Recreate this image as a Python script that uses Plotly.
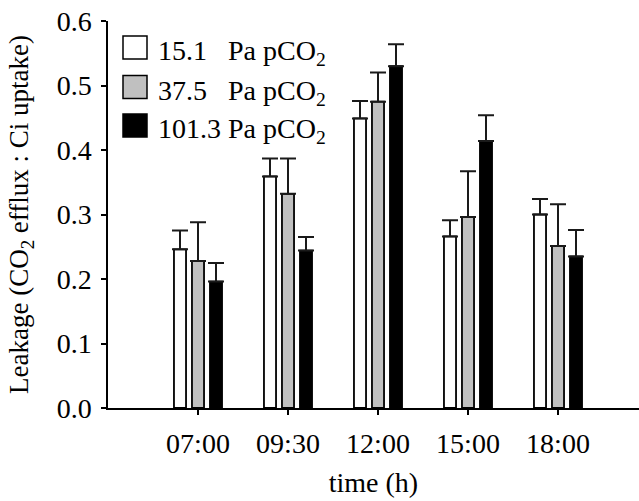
import plotly.graph_objects as go

times = ["07:00", "09:30", "12:00", "15:00", "18:00"]
series_names = ["15.1", "37.5", "101.3"]
leak_15 = [0.246, 0.359, 0.449, 0.266, 0.300]
leak_37 = [0.228, 0.332, 0.475, 0.296, 0.251]
leak_101 = [0.196, 0.244, 0.530, 0.414, 0.235]
err_15 = [0.029, 0.028, 0.027, 0.025, 0.024]
err_37 = [0.060, 0.055, 0.045, 0.071, 0.065]
err_101 = [0.029, 0.021, 0.034, 0.040, 0.041]
fills = ["#ffffff", "#c0c0c0", "#000000"]

W, H = 639, 501
L, R, T, B = 108, 0, 21, 93
FONT = "Liberation Serif"
FS = 28

fig = go.Figure()
for name, vals, errs, col in zip(series_names, [leak_15, leak_37, leak_101],
                                 [err_15, err_37, err_101], fills):
    fig.add_trace(go.Bar(
        x=times, y=vals, name=name,
        marker=dict(color=col, line=dict(color="#000000", width=1.8)),
        error_y=dict(type="data", symmetric=False, array=errs,
                     arrayminus=[0] * len(errs), color="#1a1a1a",
                     thickness=2, width=8),
        showlegend=False,
    ))

# custom legend (swatches + text)
pw, ph = W - L - R, H - T - B
def px_x(p):
    return (p - L) / pw
def px_y(p):
    return (H - B - p) / ph

row_centers = [47.5, 87, 125.5]
labels = ["15.1\u00a0\u00a0\u00a0Pa pCO<sub>2</sub>",
          "37.5\u00a0\u00a0\u00a0Pa pCO<sub>2</sub>",
          "101.3\u00a0Pa pCO<sub>2</sub>"]
for yc, lab, col in zip(row_centers, labels, fills):
    fig.add_shape(type="rect", xref="paper", yref="paper",
                  x0=px_x(123), x1=px_x(147), y0=px_y(yc - 11.5), y1=px_y(yc + 11.5),
                  fillcolor=col, line=dict(color="#000000", width=1.5))
    fig.add_annotation(xref="paper", yref="paper", x=px_x(156), y=px_y(yc + 5),
                       xanchor="left", yanchor="middle", showarrow=False,
                       text=lab, font=dict(family=FONT, size=FS, color="#000000"))

fig.update_layout(
    width=W, height=H,
    margin=dict(l=L, r=R, t=T, b=B),
    paper_bgcolor="white", plot_bgcolor="white",
    barmode="group", bargap=0.4, bargroupgap=0.33,
    font=dict(family=FONT, size=FS, color="#000000"),
    xaxis=dict(type="category", range=[-1, 4.9], showline=True,
               linecolor="#000000", linewidth=1.5, ticks="outside",
               ticklen=5, tickwidth=1.5, tickcolor="#000000",
               ticklabelstandoff=5,
               showgrid=False, zeroline=False,
               tickfont=dict(family=FONT, size=FS),
               title=dict(text="time (h)", font=dict(family=FONT, size=FS), standoff=14)),
    yaxis=dict(range=[0, 0.6], dtick=0.1, tickformat=".1f", showline=True,
               linecolor="#000000", linewidth=1.5, ticks="outside",
               ticklen=5, tickwidth=1.5, tickcolor="#000000",
               ticklabelstandoff=4,
               showgrid=False, zeroline=False,
               tickfont=dict(family=FONT, size=FS),
               title=dict(text="Leakage (CO<sub>2</sub> efflux : Ci uptake)",
                          font=dict(family=FONT, size=27), standoff=20)),
)

fig.write_html("out.html")
